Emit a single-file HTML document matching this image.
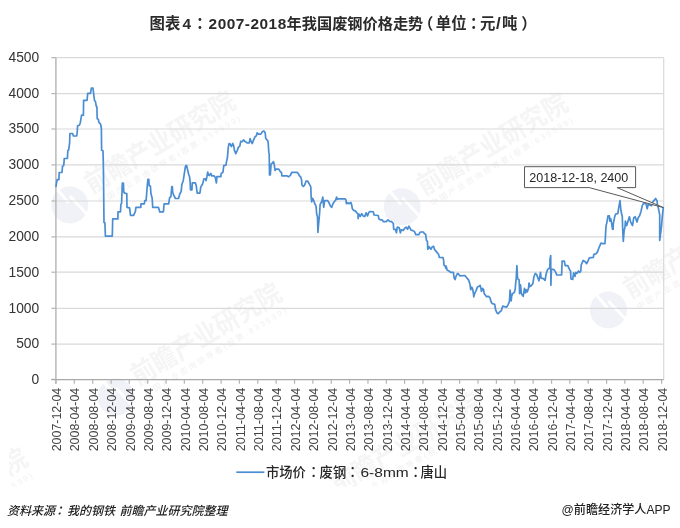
<!DOCTYPE html><html><head><meta charset="utf-8"><style>
html,body{margin:0;padding:0;background:#fff;}
svg{display:block;}
.t{font-family:"Liberation Sans","Noto Sans CJK SC",sans-serif;}
</style></head><body>
<svg width="680" height="528" viewBox="0 0 680 528">
<rect width="680" height="528" fill="#fff"/>
<defs><clipPath id="wc"><rect x="9" y="0" width="671" height="486.5"/></clipPath></defs>
<g clip-path="url(#wc)">
<g transform="translate(69.8,205)"><circle cx="0" cy="0" r="18.5" fill="#f0f2f7"/><path d="M-12 -15 L-1 -2 M0 -9 L18 10" fill="none" stroke="#fff" stroke-width="3"/></g><g transform="translate(69.8,205) rotate(-31)"><text x="24.5" y="2" class="t" font-size="27" font-weight="bold" fill="#f5f5f5" textLength="170" lengthAdjust="spacingAndGlyphs">前瞻产业研究院</text><text x="26.3" y="15.5" class="t" font-size="8" fill="#f0f0f0" textLength="164" lengthAdjust="spacing">中国产业咨询领导者(股票:839599)</text></g>
<g transform="translate(402.2,206.8)"><circle cx="0" cy="0" r="18.5" fill="#f0f2f7"/><path d="M-12 -15 L-1 -2 M0 -9 L18 10" fill="none" stroke="#fff" stroke-width="3"/></g><g transform="translate(402.2,206.8) rotate(-31)"><text x="24.5" y="2" class="t" font-size="27" font-weight="bold" fill="#f5f5f5" textLength="170" lengthAdjust="spacingAndGlyphs">前瞻产业研究院</text><text x="26.3" y="15.5" class="t" font-size="8" fill="#f0f0f0" textLength="164" lengthAdjust="spacing">中国产业咨询领导者(股票:839599)</text></g>
<g transform="translate(116,397)"><circle cx="0" cy="0" r="18.5" fill="#f0f2f7"/><path d="M-12 -15 L-1 -2 M0 -9 L18 10" fill="none" stroke="#fff" stroke-width="3"/></g><g transform="translate(116,397) rotate(-31)"><text x="24.5" y="2" class="t" font-size="27" font-weight="bold" fill="#f5f5f5" textLength="170" lengthAdjust="spacingAndGlyphs">前瞻产业研究院</text><text x="26.3" y="15.5" class="t" font-size="8" fill="#f0f0f0" textLength="164" lengthAdjust="spacing">中国产业咨询领导者(股票:839599)</text></g>
<g transform="translate(608.4,310)"><circle cx="0" cy="0" r="18.5" fill="#f0f2f7"/><path d="M-12 -15 L-1 -2 M0 -9 L18 10" fill="none" stroke="#fff" stroke-width="3"/></g><g transform="translate(608.4,310) rotate(-31)"><text x="24.5" y="2" class="t" font-size="27" font-weight="bold" fill="#f5f5f5" textLength="170" lengthAdjust="spacingAndGlyphs">前瞻产业研究院</text><text x="26.3" y="15.5" class="t" font-size="8" fill="#f0f0f0" textLength="164" lengthAdjust="spacing">中国产业咨询领导者(股票:839599)</text></g>
<g transform="translate(-138,562)"><circle cx="0" cy="0" r="18.5" fill="#f0f2f7"/><path d="M-12 -15 L-1 -2 M0 -9 L18 10" fill="none" stroke="#fff" stroke-width="3"/></g><g transform="translate(-138,562) rotate(-31)"><text x="24.5" y="2" class="t" font-size="27" font-weight="bold" fill="#f5f5f5" textLength="170" lengthAdjust="spacingAndGlyphs">前瞻产业研究院</text><text x="26.3" y="15.5" class="t" font-size="8" fill="#f0f0f0" textLength="164" lengthAdjust="spacing">中国产业咨询领导者(股票:839599)</text></g>
<g transform="translate(316.4,506)"><circle cx="0" cy="0" r="18.5" fill="#f0f2f7"/><path d="M-12 -15 L-1 -2 M0 -9 L18 10" fill="none" stroke="#fff" stroke-width="3"/></g><g transform="translate(316.4,506) rotate(-31)"><text x="24.5" y="2" class="t" font-size="27" font-weight="bold" fill="#f5f5f5" textLength="170" lengthAdjust="spacingAndGlyphs">前瞻产业研究院</text><text x="26.3" y="15.5" class="t" font-size="8" fill="#f0f0f0" textLength="164" lengthAdjust="spacing">中国产业咨询领导者(股票:839599)</text></g>
</g>
<line x1="55.9" y1="57.60" x2="663.7" y2="57.60" stroke="#d9d9d9" stroke-width="1.2"/>
<line x1="55.9" y1="93.60" x2="663.7" y2="93.60" stroke="#d9d9d9" stroke-width="1.2"/>
<line x1="55.9" y1="129.00" x2="663.7" y2="129.00" stroke="#d9d9d9" stroke-width="1.2"/>
<line x1="55.9" y1="164.90" x2="663.7" y2="164.90" stroke="#d9d9d9" stroke-width="1.2"/>
<line x1="55.9" y1="201.00" x2="663.7" y2="201.00" stroke="#d9d9d9" stroke-width="1.2"/>
<line x1="55.9" y1="236.90" x2="663.7" y2="236.90" stroke="#d9d9d9" stroke-width="1.2"/>
<line x1="55.9" y1="272.20" x2="663.7" y2="272.20" stroke="#d9d9d9" stroke-width="1.2"/>
<line x1="55.9" y1="308.30" x2="663.7" y2="308.30" stroke="#d9d9d9" stroke-width="1.2"/>
<line x1="55.9" y1="344.10" x2="663.7" y2="344.10" stroke="#d9d9d9" stroke-width="1.2"/>
<line x1="663.7" y1="57.8" x2="663.7" y2="379.6" stroke="#d9d9d9" stroke-width="1.2"/>
<line x1="55.9" y1="57.8" x2="55.9" y2="383.8" stroke="#b4b4b4" stroke-width="1.4"/>
<line x1="51.4" y1="57.60" x2="55.9" y2="57.60" stroke="#b4b4b4" stroke-width="1.2"/>
<line x1="51.4" y1="93.60" x2="55.9" y2="93.60" stroke="#b4b4b4" stroke-width="1.2"/>
<line x1="51.4" y1="129.00" x2="55.9" y2="129.00" stroke="#b4b4b4" stroke-width="1.2"/>
<line x1="51.4" y1="164.90" x2="55.9" y2="164.90" stroke="#b4b4b4" stroke-width="1.2"/>
<line x1="51.4" y1="201.00" x2="55.9" y2="201.00" stroke="#b4b4b4" stroke-width="1.2"/>
<line x1="51.4" y1="236.90" x2="55.9" y2="236.90" stroke="#b4b4b4" stroke-width="1.2"/>
<line x1="51.4" y1="272.20" x2="55.9" y2="272.20" stroke="#b4b4b4" stroke-width="1.2"/>
<line x1="51.4" y1="308.30" x2="55.9" y2="308.30" stroke="#b4b4b4" stroke-width="1.2"/>
<line x1="51.4" y1="344.10" x2="55.9" y2="344.10" stroke="#b4b4b4" stroke-width="1.2"/>
<line x1="51.4" y1="379.40" x2="55.9" y2="379.40" stroke="#b4b4b4" stroke-width="1.2"/>
<line x1="51.4" y1="379.6" x2="663.7" y2="379.6" stroke="#a8a8a8" stroke-width="1.4"/>
<line x1="55.90" y1="379.6" x2="55.90" y2="383.8" stroke="#b4b4b4" stroke-width="1.2"/>
<line x1="74.29" y1="379.6" x2="74.29" y2="383.8" stroke="#b4b4b4" stroke-width="1.2"/>
<line x1="92.68" y1="379.6" x2="92.68" y2="383.8" stroke="#b4b4b4" stroke-width="1.2"/>
<line x1="111.07" y1="379.6" x2="111.07" y2="383.8" stroke="#b4b4b4" stroke-width="1.2"/>
<line x1="129.31" y1="379.6" x2="129.31" y2="383.8" stroke="#b4b4b4" stroke-width="1.2"/>
<line x1="147.70" y1="379.6" x2="147.70" y2="383.8" stroke="#b4b4b4" stroke-width="1.2"/>
<line x1="166.09" y1="379.6" x2="166.09" y2="383.8" stroke="#b4b4b4" stroke-width="1.2"/>
<line x1="184.33" y1="379.6" x2="184.33" y2="383.8" stroke="#b4b4b4" stroke-width="1.2"/>
<line x1="202.72" y1="379.6" x2="202.72" y2="383.8" stroke="#b4b4b4" stroke-width="1.2"/>
<line x1="221.12" y1="379.6" x2="221.12" y2="383.8" stroke="#b4b4b4" stroke-width="1.2"/>
<line x1="239.36" y1="379.6" x2="239.36" y2="383.8" stroke="#b4b4b4" stroke-width="1.2"/>
<line x1="257.75" y1="379.6" x2="257.75" y2="383.8" stroke="#b4b4b4" stroke-width="1.2"/>
<line x1="276.14" y1="379.6" x2="276.14" y2="383.8" stroke="#b4b4b4" stroke-width="1.2"/>
<line x1="294.53" y1="379.6" x2="294.53" y2="383.8" stroke="#b4b4b4" stroke-width="1.2"/>
<line x1="312.92" y1="379.6" x2="312.92" y2="383.8" stroke="#b4b4b4" stroke-width="1.2"/>
<line x1="331.31" y1="379.6" x2="331.31" y2="383.8" stroke="#b4b4b4" stroke-width="1.2"/>
<line x1="349.55" y1="379.6" x2="349.55" y2="383.8" stroke="#b4b4b4" stroke-width="1.2"/>
<line x1="367.94" y1="379.6" x2="367.94" y2="383.8" stroke="#b4b4b4" stroke-width="1.2"/>
<line x1="386.33" y1="379.6" x2="386.33" y2="383.8" stroke="#b4b4b4" stroke-width="1.2"/>
<line x1="404.57" y1="379.6" x2="404.57" y2="383.8" stroke="#b4b4b4" stroke-width="1.2"/>
<line x1="422.96" y1="379.6" x2="422.96" y2="383.8" stroke="#b4b4b4" stroke-width="1.2"/>
<line x1="441.35" y1="379.6" x2="441.35" y2="383.8" stroke="#b4b4b4" stroke-width="1.2"/>
<line x1="459.59" y1="379.6" x2="459.59" y2="383.8" stroke="#b4b4b4" stroke-width="1.2"/>
<line x1="477.98" y1="379.6" x2="477.98" y2="383.8" stroke="#b4b4b4" stroke-width="1.2"/>
<line x1="496.37" y1="379.6" x2="496.37" y2="383.8" stroke="#b4b4b4" stroke-width="1.2"/>
<line x1="514.76" y1="379.6" x2="514.76" y2="383.8" stroke="#b4b4b4" stroke-width="1.2"/>
<line x1="533.16" y1="379.6" x2="533.16" y2="383.8" stroke="#b4b4b4" stroke-width="1.2"/>
<line x1="551.55" y1="379.6" x2="551.55" y2="383.8" stroke="#b4b4b4" stroke-width="1.2"/>
<line x1="569.79" y1="379.6" x2="569.79" y2="383.8" stroke="#b4b4b4" stroke-width="1.2"/>
<line x1="588.18" y1="379.6" x2="588.18" y2="383.8" stroke="#b4b4b4" stroke-width="1.2"/>
<line x1="606.57" y1="379.6" x2="606.57" y2="383.8" stroke="#b4b4b4" stroke-width="1.2"/>
<line x1="624.81" y1="379.6" x2="624.81" y2="383.8" stroke="#b4b4b4" stroke-width="1.2"/>
<line x1="643.20" y1="379.6" x2="643.20" y2="383.8" stroke="#b4b4b4" stroke-width="1.2"/>
<line x1="661.59" y1="379.6" x2="661.59" y2="383.8" stroke="#b4b4b4" stroke-width="1.2"/>
<text x="39.2" y="61.90" class="t" font-size="13.8" fill="#333" text-anchor="end">4500</text>
<text x="39.2" y="97.90" class="t" font-size="13.8" fill="#333" text-anchor="end">4000</text>
<text x="39.2" y="133.30" class="t" font-size="13.8" fill="#333" text-anchor="end">3500</text>
<text x="39.2" y="169.20" class="t" font-size="13.8" fill="#333" text-anchor="end">3000</text>
<text x="39.2" y="205.30" class="t" font-size="13.8" fill="#333" text-anchor="end">2500</text>
<text x="39.2" y="241.20" class="t" font-size="13.8" fill="#333" text-anchor="end">2000</text>
<text x="39.2" y="276.50" class="t" font-size="13.8" fill="#333" text-anchor="end">1500</text>
<text x="39.2" y="312.60" class="t" font-size="13.8" fill="#333" text-anchor="end">1000</text>
<text x="39.2" y="348.40" class="t" font-size="13.8" fill="#333" text-anchor="end">500</text>
<text x="39.2" y="383.70" class="t" font-size="13.8" fill="#333" text-anchor="end">0</text>
<text transform="translate(61.10,387.8) rotate(-90)" class="t" font-size="12.6" fill="#444" text-anchor="end" textLength="63.5" lengthAdjust="spacingAndGlyphs">2007-12-04</text>
<text transform="translate(79.49,387.8) rotate(-90)" class="t" font-size="12.6" fill="#444" text-anchor="end" textLength="63.5" lengthAdjust="spacingAndGlyphs">2008-04-04</text>
<text transform="translate(97.88,387.8) rotate(-90)" class="t" font-size="12.6" fill="#444" text-anchor="end" textLength="63.5" lengthAdjust="spacingAndGlyphs">2008-08-04</text>
<text transform="translate(116.27,387.8) rotate(-90)" class="t" font-size="12.6" fill="#444" text-anchor="end" textLength="63.5" lengthAdjust="spacingAndGlyphs">2008-12-04</text>
<text transform="translate(134.51,387.8) rotate(-90)" class="t" font-size="12.6" fill="#444" text-anchor="end" textLength="63.5" lengthAdjust="spacingAndGlyphs">2009-04-04</text>
<text transform="translate(152.90,387.8) rotate(-90)" class="t" font-size="12.6" fill="#444" text-anchor="end" textLength="63.5" lengthAdjust="spacingAndGlyphs">2009-08-04</text>
<text transform="translate(171.29,387.8) rotate(-90)" class="t" font-size="12.6" fill="#444" text-anchor="end" textLength="63.5" lengthAdjust="spacingAndGlyphs">2009-12-04</text>
<text transform="translate(189.53,387.8) rotate(-90)" class="t" font-size="12.6" fill="#444" text-anchor="end" textLength="63.5" lengthAdjust="spacingAndGlyphs">2010-04-04</text>
<text transform="translate(207.92,387.8) rotate(-90)" class="t" font-size="12.6" fill="#444" text-anchor="end" textLength="63.5" lengthAdjust="spacingAndGlyphs">2010-08-04</text>
<text transform="translate(226.32,387.8) rotate(-90)" class="t" font-size="12.6" fill="#444" text-anchor="end" textLength="63.5" lengthAdjust="spacingAndGlyphs">2010-12-04</text>
<text transform="translate(244.56,387.8) rotate(-90)" class="t" font-size="12.6" fill="#444" text-anchor="end" textLength="63.5" lengthAdjust="spacingAndGlyphs">2011-04-04</text>
<text transform="translate(262.95,387.8) rotate(-90)" class="t" font-size="12.6" fill="#444" text-anchor="end" textLength="63.5" lengthAdjust="spacingAndGlyphs">2011-08-04</text>
<text transform="translate(281.34,387.8) rotate(-90)" class="t" font-size="12.6" fill="#444" text-anchor="end" textLength="63.5" lengthAdjust="spacingAndGlyphs">2011-12-04</text>
<text transform="translate(299.73,387.8) rotate(-90)" class="t" font-size="12.6" fill="#444" text-anchor="end" textLength="63.5" lengthAdjust="spacingAndGlyphs">2012-04-04</text>
<text transform="translate(318.12,387.8) rotate(-90)" class="t" font-size="12.6" fill="#444" text-anchor="end" textLength="63.5" lengthAdjust="spacingAndGlyphs">2012-08-04</text>
<text transform="translate(336.51,387.8) rotate(-90)" class="t" font-size="12.6" fill="#444" text-anchor="end" textLength="63.5" lengthAdjust="spacingAndGlyphs">2012-12-04</text>
<text transform="translate(354.75,387.8) rotate(-90)" class="t" font-size="12.6" fill="#444" text-anchor="end" textLength="63.5" lengthAdjust="spacingAndGlyphs">2013-04-04</text>
<text transform="translate(373.14,387.8) rotate(-90)" class="t" font-size="12.6" fill="#444" text-anchor="end" textLength="63.5" lengthAdjust="spacingAndGlyphs">2013-08-04</text>
<text transform="translate(391.53,387.8) rotate(-90)" class="t" font-size="12.6" fill="#444" text-anchor="end" textLength="63.5" lengthAdjust="spacingAndGlyphs">2013-12-04</text>
<text transform="translate(409.77,387.8) rotate(-90)" class="t" font-size="12.6" fill="#444" text-anchor="end" textLength="63.5" lengthAdjust="spacingAndGlyphs">2014-04-04</text>
<text transform="translate(428.16,387.8) rotate(-90)" class="t" font-size="12.6" fill="#444" text-anchor="end" textLength="63.5" lengthAdjust="spacingAndGlyphs">2014-08-04</text>
<text transform="translate(446.55,387.8) rotate(-90)" class="t" font-size="12.6" fill="#444" text-anchor="end" textLength="63.5" lengthAdjust="spacingAndGlyphs">2014-12-04</text>
<text transform="translate(464.79,387.8) rotate(-90)" class="t" font-size="12.6" fill="#444" text-anchor="end" textLength="63.5" lengthAdjust="spacingAndGlyphs">2015-04-04</text>
<text transform="translate(483.18,387.8) rotate(-90)" class="t" font-size="12.6" fill="#444" text-anchor="end" textLength="63.5" lengthAdjust="spacingAndGlyphs">2015-08-04</text>
<text transform="translate(501.57,387.8) rotate(-90)" class="t" font-size="12.6" fill="#444" text-anchor="end" textLength="63.5" lengthAdjust="spacingAndGlyphs">2015-12-04</text>
<text transform="translate(519.96,387.8) rotate(-90)" class="t" font-size="12.6" fill="#444" text-anchor="end" textLength="63.5" lengthAdjust="spacingAndGlyphs">2016-04-04</text>
<text transform="translate(538.36,387.8) rotate(-90)" class="t" font-size="12.6" fill="#444" text-anchor="end" textLength="63.5" lengthAdjust="spacingAndGlyphs">2016-08-04</text>
<text transform="translate(556.75,387.8) rotate(-90)" class="t" font-size="12.6" fill="#444" text-anchor="end" textLength="63.5" lengthAdjust="spacingAndGlyphs">2016-12-04</text>
<text transform="translate(574.99,387.8) rotate(-90)" class="t" font-size="12.6" fill="#444" text-anchor="end" textLength="63.5" lengthAdjust="spacingAndGlyphs">2017-04-04</text>
<text transform="translate(593.38,387.8) rotate(-90)" class="t" font-size="12.6" fill="#444" text-anchor="end" textLength="63.5" lengthAdjust="spacingAndGlyphs">2017-08-04</text>
<text transform="translate(611.77,387.8) rotate(-90)" class="t" font-size="12.6" fill="#444" text-anchor="end" textLength="63.5" lengthAdjust="spacingAndGlyphs">2017-12-04</text>
<text transform="translate(630.01,387.8) rotate(-90)" class="t" font-size="12.6" fill="#444" text-anchor="end" textLength="63.5" lengthAdjust="spacingAndGlyphs">2018-04-04</text>
<text transform="translate(648.40,387.8) rotate(-90)" class="t" font-size="12.6" fill="#444" text-anchor="end" textLength="63.5" lengthAdjust="spacingAndGlyphs">2018-08-04</text>
<text transform="translate(666.79,387.8) rotate(-90)" class="t" font-size="12.6" fill="#444" text-anchor="end" textLength="63.5" lengthAdjust="spacingAndGlyphs">2018-12-04</text>
<polyline points="56.0,186.3 57.1,179.6 58.9,179.6 59.2,172.5 62.0,172.5 62.5,166.2 63.6,165.8 64.0,162.7 64.2,158.5 67.4,158.5 67.8,150.7 68.7,149.8 69.6,143.2 69.9,133.5 72.7,133.5 73.4,136.0 76.7,136.0 77.2,132.5 77.6,125.8 79.4,125.3 80.3,122.7 81.6,115.2 83.4,115.2 83.6,100.3 87.1,100.3 87.7,93.4 90.5,93.4 91.4,88.0 93.0,88.0 93.6,93.4 94.5,100.5 95.4,101.4 96.3,106.3 96.9,106.7 97.2,118.7 98.3,119.2 99.0,122.7 100.1,123.4 100.7,124.5 101.4,128.9 101.6,150.3 103.0,150.7 103.4,167.0 104.0,222.5 104.9,222.9 105.4,236.1 112.3,236.1 112.7,218.9 117.9,218.9 118.0,211.8 120.5,211.8 120.9,204.2 121.6,203.4 122.3,183.0 123.4,183.0 123.8,191.9 124.7,193.2 126.8,193.6 127.0,207.4 129.6,207.8 130.5,215.4 133.6,215.4 135.4,211.4 135.9,207.4 140.8,207.4 141.0,203.8 144.3,203.8 144.8,200.7 146.1,200.7 147.2,186.5 147.9,179.4 148.8,179.4 149.2,185.6 150.4,186.0 150.9,193.2 152.2,198.5 152.7,207.4 158.5,207.4 159.8,211.9 163.4,211.9 164.1,203.8 168.7,203.8 169.6,197.6 170.9,196.7 171.8,186.5 172.3,186.5 172.7,192.3 173.6,194.9 175.4,198.5 178.5,198.5 179.8,194.0 181.2,191.4 181.9,184.2 183.2,181.0 184.0,175.6 185.4,166.7 186.1,165.4 186.7,165.8 188.5,173.8 189.6,177.1 190.1,181.6 190.5,190.0 191.9,190.0 192.3,182.9 195.4,182.9 196.3,186.0 197.2,193.2 199.9,193.2 200.8,186.9 202.5,184.2 203.9,178.9 205.7,178.9 206.1,180.7 207.0,176.2 207.7,172.2 208.8,175.3 209.4,175.6 210.8,173.4 211.8,175.8 214.0,175.8 215.3,177.6 216.4,183.0 216.9,176.7 220.9,176.7 221.1,173.6 222.9,172.3 223.8,165.6 226.0,165.1 226.5,161.6 227.4,157.7 228.3,147.1 229.1,143.5 230.0,143.9 231.4,146.6 232.7,143.5 233.6,145.3 234.5,150.6 235.8,153.7 237.2,150.6 238.5,147.1 239.8,146.2 240.7,141.3 242.1,141.7 243.7,139.9 244.7,141.3 247.4,143.0 249.2,143.0 250.1,138.6 251.0,141.3 252.3,143.5 253.6,139.9 255.0,136.8 256.3,135.9 257.2,132.8 258.5,134.1 260.8,134.1 262.5,131.5 263.9,131.0 265.2,132.8 265.7,138.2 267.0,139.9 267.9,140.8 268.3,144.4 268.8,152.4 269.2,153.6 269.5,174.9 270.3,174.9 271.1,164.2 272.1,163.4 273.5,161.6 274.3,164.7 275.0,170.5 276.1,169.1 278.8,169.1 280.1,171.4 281.5,172.7 281.9,175.8 286.8,175.8 288.6,176.7 290.4,175.4 291.7,172.3 297.1,172.3 298.4,173.6 299.3,175.8 300.6,176.7 301.5,179.4 302.0,185.2 303.3,186.5 304.6,185.2 306.0,181.2 307.7,181.2 309.5,184.3 310.8,186.8 311.1,196.6 311.7,201.9 312.6,198.4 313.9,201.0 314.8,203.7 316.1,206.4 316.6,213.5 317.5,217.1 317.9,232.4 319.1,218.8 319.7,211.7 320.1,204.6 321.9,201.0 322.8,197.0 323.7,207.3 324.6,200.6 327.7,200.6 329.0,202.8 330.4,205.9 331.7,207.3 333.0,203.7 334.4,201.5 335.7,200.1 336.6,197.0 337.5,199.2 338.4,198.8 345.1,198.8 346.0,200.1 346.4,203.7 347.7,202.8 349.1,203.7 350.9,202.4 351.7,205.0 352.2,208.2 353.5,210.4 355.3,210.8 356.6,212.6 358.0,213.9 358.1,218.6 359.0,214.1 360.3,216.4 361.7,213.7 363.5,216.4 364.8,216.4 366.1,212.8 367.5,215.9 368.8,212.4 370.1,211.5 373.3,211.9 374.1,215.0 378.2,215.5 379.0,219.0 380.4,219.9 382.2,219.9 383.5,221.7 386.2,221.7 387.9,219.9 389.7,221.3 391.5,221.7 393.3,223.5 393.7,229.3 395.5,229.3 396.4,232.8 397.3,227.1 399.1,227.5 400.4,232.8 401.3,229.7 403.1,230.6 404.9,228.0 406.2,227.1 407.5,229.3 408.9,226.2 411.1,230.2 412.9,230.6 414.5,231.6 415.8,234.7 418.9,234.7 420.2,232.0 423.4,232.0 424.2,233.4 425.6,234.2 426.5,240.5 427.4,241.4 427.8,249.4 429.1,246.7 430.9,249.4 432.3,246.7 433.6,246.3 434.5,249.4 436.7,252.1 438.5,254.3 439.4,257.4 443.1,257.7 443.6,260.3 444.0,265.2 445.3,266.1 445.8,268.4 446.2,266.1 447.1,270.1 448.9,271.0 450.7,272.4 453.4,272.4 454.2,278.2 455.1,279.5 456.0,276.4 457.4,273.7 458.3,273.7 460.0,275.9 464.9,275.5 466.7,277.7 468.5,279.9 469.8,283.5 470.7,289.7 471.6,287.1 472.5,288.4 473.4,293.3 473.8,296.9 474.7,293.3 476.1,290.6 477.4,287.1 479.2,286.2 480.1,285.3 481.0,288.4 481.4,291.5 482.7,288.4 483.6,289.7 484.1,293.3 484.9,294.6 486.3,296.6 488.5,296.4 489.9,297.7 491.1,301.7 492.0,303.5 494.7,304.4 495.6,309.7 496.9,312.8 498.3,313.7 499.6,312.0 501.4,310.6 502.7,306.2 504.5,306.6 506.7,307.1 508.0,304.8 509.4,301.7 510.1,290.1 511.2,300.8 511.6,296.4 512.5,293.7 514.3,292.4 515.2,289.2 515.6,283.9 516.2,278.6 516.9,265.7 517.6,278.6 518.7,279.5 519.2,280.3 519.6,293.7 520.5,284.8 521.4,293.7 523.2,296.4 524.5,288.4 525.4,292.8 526.3,289.7 527.2,291.9 528.5,288.4 529.0,283.0 529.9,286.6 531.2,285.7 532.9,283.5 533.8,277.3 535.2,273.5 536.6,274.4 537.9,278.0 538.9,280.8 539.8,276.4 540.5,272.4 541.1,278.2 543.4,278.6 545.1,280.4 546.0,274.6 547.4,270.1 548.7,268.4 549.8,268.4 550.0,259.5 550.7,255.6 550.9,285.3 551.4,269.2 554.0,269.7 555.8,272.4 556.7,275.0 561.6,275.0 562.1,261.2 564.3,261.2 565.2,265.7 567.8,265.7 569.6,269.7 570.5,271.0 571.0,279.0 572.7,279.5 573.6,272.8 575.0,276.4 575.9,272.4 577.2,273.3 578.5,271.0 579.9,272.4 580.8,271.0 581.2,265.0 581.8,263.6 583.1,260.5 584.9,261.4 586.7,263.6 588.0,260.9 589.3,257.8 593.4,257.4 593.8,254.3 596.0,253.8 597.4,252.1 598.7,248.5 600.0,245.4 600.9,243.2 602.7,243.6 604.9,243.6 605.4,237.8 605.8,228.9 606.3,224.5 606.7,223.4 608.0,215.8 609.3,215.8 609.8,221.2 610.7,218.5 611.6,222.9 612.5,229.2 613.1,229.3 613.3,223.8 614.7,216.7 615.6,214.0 617.8,213.6 618.7,207.8 620.0,200.7 620.9,210.5 622.3,216.7 622.7,228.9 623.3,241.5 624.1,230.7 625.0,227.1 625.4,221.2 626.7,225.6 628.0,221.2 629.4,216.7 630.7,222.1 632.5,225.6 633.8,217.6 635.2,216.7 637.0,222.1 638.3,217.6 639.6,215.8 641.0,211.4 642.3,205.6 643.6,203.4 645.9,203.4 647.2,208.7 648.1,204.7 650.3,205.1 651.6,205.6 653.0,201.6 654.3,200.2 655.6,198.5 657.0,200.7 657.4,204.2 658.3,207.8 659.7,214.9 659.7,240.3 661.4,227.4 662.3,216.7 663.3,207.5" fill="none" stroke="#4a8dd3" stroke-width="1.7" stroke-linejoin="round" stroke-linecap="round"/>
<path d="M524.5 166.7 H635.6 V187.6 H617.1 L663.2 207.5 L589.2 187.6 H524.5 Z" fill="#fff" stroke="#595959" stroke-width="1"/>
<text x="529.3" y="182.2" class="t" font-size="13" fill="#262626" textLength="99" lengthAdjust="spacingAndGlyphs">2018-12-18, 2400</text>
<text class="t" y="28.9" font-size="15.4" font-weight="bold" fill="#2b2b2b"><tspan x="149.6">图表</tspan><tspan x="182.4">4</tspan><tspan x="192.3" style="font-family:'Liberation Sans','Noto Sans CJK JP',sans-serif">：</tspan><tspan x="208.6" letter-spacing="0.5">2007-2018</tspan><tspan x="286.6" font-size="15.2">年我国废钢价格走势</tspan><tspan x="418">（</tspan><tspan x="435.8">单位</tspan><tspan x="466" style="font-family:'Liberation Sans','Noto Sans CJK JP',sans-serif">：</tspan><tspan x="479.9">元</tspan><tspan x="496" font-size="17">/</tspan><tspan x="501.9">吨</tspan><tspan x="521.3">）</tspan></text>
<line x1="236.3" y1="472.2" x2="264.4" y2="472.2" stroke="#4a8dd3" stroke-width="1.7"/>
<text y="476.8" class="t" font-size="13.3" font-weight="500" fill="#262626"><tspan x="266">市场价</tspan><tspan x="306.9" style="font-family:'Liberation Sans','Noto Sans CJK JP',sans-serif">：</tspan><tspan x="319.6">废钢</tspan><tspan x="346" style="font-family:'Liberation Sans','Noto Sans CJK JP',sans-serif">：</tspan><tspan x="360.5" textLength="48.2" lengthAdjust="spacingAndGlyphs">6-8mm</tspan><tspan x="408.9" style="font-family:'Liberation Sans','Noto Sans CJK JP',sans-serif">：</tspan><tspan x="420.5">唐山</tspan></text>
<text y="514.6" class="t" font-size="12" font-style="italic" font-weight="500" fill="#222"><tspan x="6.9">资料来源</tspan><tspan x="53.2" style="font-family:'Liberation Sans','Noto Sans CJK JP',sans-serif">：</tspan><tspan x="66.9">我的钢铁 </tspan><tspan x="119.5">前瞻产业研究院整理</tspan></text>
<text x="561.6" y="514" class="t" font-size="12" font-weight="500" fill="#222" textLength="109" lengthAdjust="spacingAndGlyphs">@前瞻经济学人APP</text>
</svg></body></html>
